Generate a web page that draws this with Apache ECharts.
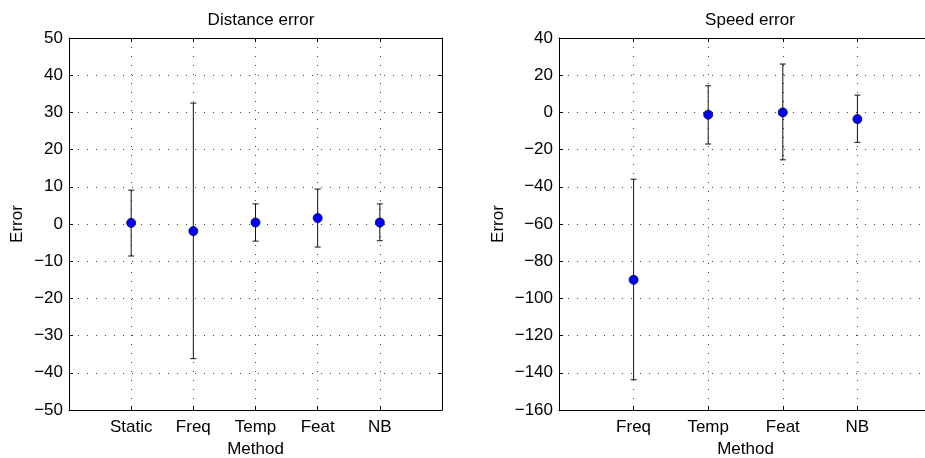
<!DOCTYPE html>
<html>
<head>
<meta charset="utf-8">
<script src="https://cdn.jsdelivr.net/npm/echarts@6/dist/echarts.min.js"></script>
<style>
  html, body { margin: 0; padding: 0; background: #fff; }
  #chart { width: 925px; height: 458px; }
</style>
</head>
<body>
<div id="chart"></div>
<script>
// Distance error per method: mean and error-bar bounds
const distMethods = ['Static', 'Freq', 'Temp', 'Feat', 'NB'];
const distMean = [0.3, -1.9, 0.4, 1.6, 0.4];
const distLow  = [-8.6, -36.2, -4.6, -6.2, -4.5];
const distHigh = [9.1, 32.5, 5.4, 9.4, 5.4];

// Speed error per method
const speedMethods = ['Freq', 'Temp', 'Feat', 'NB'];
const speedMean = [-90, -1.2, 0, -3.6];
const speedLow  = [-143.7, -17, -25.5, -16.1];
const speedHigh = [-35.9, 14.3, 26, 9.3];

const FONT = 'Liberation Sans, Arial, Helvetica, sans-serif';
const FS = 17;
const minus = v => String(v).replace('-', '\u2212');

const chart = echarts.init(document.getElementById('chart'), null, { renderer: 'canvas' });

const dotted = { show: true, lineStyle: { color: '#444', width: 1, type: [1, 8] } };
const frameLine = { show: true, onZero: false, lineStyle: { color: '#000', width: 1 } };
const innerTick = { show: true, inside: true, length: 4, lineStyle: { color: '#000' } };
const textStyle = { fontSize: FS, color: '#000', fontFamily: FONT };

function xAxes(gridIndex, names) {
  const max = names.length + 1;
  return [
    {
      type: 'value', gridIndex, min: 0, max, interval: 1, position: 'bottom',
      axisLine: frameLine, axisTick: innerTick, splitLine: dotted,
      axisLabel: Object.assign({ margin: 9, formatter: v => names[v - 1] || '' }, textStyle),
      name: 'Method', nameLocation: 'middle', nameGap: 26,
      nameTextStyle: textStyle
    },
    {
      type: 'value', gridIndex, min: 0, max, interval: 1, position: 'top',
      axisLine: frameLine, axisTick: innerTick, splitLine: { show: false },
      axisLabel: { show: false }
    }
  ];
}

function yAxes(gridIndex, min, max, interval, nameGap) {
  return [
    {
      type: 'value', gridIndex, min, max, interval, position: 'left',
      axisLine: frameLine, axisTick: innerTick, splitLine: dotted,
      axisLabel: Object.assign({ margin: 6, formatter: minus }, textStyle),
      name: 'Error', nameLocation: 'middle', nameGap, nameRotate: 90,
      nameTextStyle: textStyle
    },
    {
      type: 'value', gridIndex, min, max, interval, position: 'right',
      axisLine: frameLine, axisTick: innerTick, splitLine: { show: false },
      axisLabel: { show: false }
    }
  ];
}

// Vertical error bar with short caps at both ends
function errorBars(xAxisIndex, yAxisIndex, low, high) {
  return {
    type: 'custom', xAxisIndex, yAxisIndex, z: 3,
    data: low.map((l, i) => [i + 1, l, high[i]]),
    renderItem: (params, api) => {
      const x = api.value(0);
      const lo = api.coord([x, api.value(1)]);
      const hi = api.coord([x, api.value(2)]);
      const cap = 3;
      const style = { stroke: '#111', lineWidth: 1 };
      return {
        type: 'group',
        children: [
          { type: 'line', shape: { x1: lo[0], y1: lo[1], x2: hi[0], y2: hi[1] }, style },
          { type: 'line', shape: { x1: lo[0] - cap, y1: lo[1], x2: lo[0] + cap, y2: lo[1] }, style },
          { type: 'line', shape: { x1: hi[0] - cap, y1: hi[1], x2: hi[0] + cap, y2: hi[1] }, style }
        ]
      };
    }
  };
}

function means(xAxisIndex, yAxisIndex, vals) {
  return {
    type: 'scatter', xAxisIndex, yAxisIndex, z: 5,
    symbol: 'circle', symbolSize: 9,
    itemStyle: { color: '#0000ff', borderColor: '#000033', borderWidth: 0.8, opacity: 1 },
    data: vals.map((v, i) => [i + 1, v])
  };
}

const option = {
  backgroundColor: '#fff',
  animation: false,
  title: [
    { text: 'Distance error', left: 256, top: 7, textAlign: 'center',
      textStyle: Object.assign({ fontWeight: 'normal' }, textStyle) },
    { text: 'Speed error', left: 745, top: 7, textAlign: 'center',
      textStyle: Object.assign({ fontWeight: 'normal' }, textStyle) }
  ],
  grid: [
    { left: 69, top: 38, width: 373, height: 372, show: false, outerBoundsMode: 'none', containLabel: false },
    { left: 559, top: 38, width: 373, height: 372, show: false, outerBoundsMode: 'none', containLabel: false }
  ],
  xAxis: [...xAxes(0, distMethods), ...xAxes(1, speedMethods)],
  yAxis: [...yAxes(0, -50, 50, 10, 43), ...yAxes(1, -160, 40, 20, 52)],
  series: [
    errorBars(0, 0, distLow, distHigh),
    means(0, 0, distMean),
    errorBars(2, 2, speedLow, speedHigh),
    means(2, 2, speedMean)
  ]
};

chart.setOption(option);
</script>
</body>
</html>
